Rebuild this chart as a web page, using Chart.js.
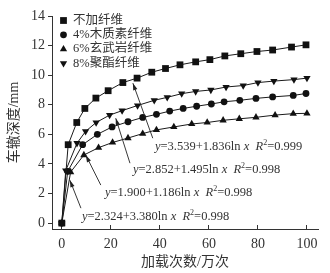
<!DOCTYPE html>
<html>
<head>
<meta charset="utf-8">
<script src="https://cdn.jsdelivr.net/npm/chart.js@4/dist/chart.umd.min.js"></script>
<style>
  body { margin: 0; background: #fff; }
  #wrap { width: 330px; height: 273px; }
</style>
</head>
<body>
<div id="wrap"><canvas id="rut" width="330" height="273"></canvas></div>
<script>
// series names (legend order)
var names = ["不加纤维", "4%木质素纤维", "6%玄武岩纤维", "8%聚酯纤维"];

// 不加纤维
var x0 = [0, 2.6, 6.1, 9.4, 13.9, 18.9, 24.9, 30.7, 36.7, 42.3, 48.2, 54.6, 60.4, 66.5, 73, 79.6, 86, 93.7, 99.6];
var y0 = [0, 5.3, 6.8, 7.75, 8.45, 8.95, 9.5, 9.8, 10.2, 10.45, 10.7, 10.9, 11.05, 11.3, 11.45, 11.6, 11.7, 11.9, 12.05];
// 4%木质素纤维
var x1 = [0, 2.4, 8.5, 14.5, 20.5, 27, 33, 38.6, 44, 49.5, 55, 61, 66.2, 72.6, 79.2, 86, 94.4, 99.6];
var y1 = [0, 3.5, 5.3, 6.0, 6.5, 6.85, 7.14, 7.35, 7.57, 7.75, 7.9, 8.05, 8.2, 8.3, 8.43, 8.53, 8.63, 8.76];
// 6%玄武岩纤维
var x2 = [0, 3.6, 9, 15, 20.7, 27, 33, 38.6, 45.7, 53, 59.3, 65.8, 72.4, 79.2, 87, 94.4, 100];
var y2 = [0, 3.45, 4.6, 5.1, 5.45, 5.75, 6.05, 6.3, 6.5, 6.7, 6.8, 6.95, 7.05, 7.15, 7.3, 7.4, 7.42];
// 8%聚酯纤维
var x3 = [0, 1.6, 6.2, 9.7, 14, 19.5, 24.6, 30.9, 37.7, 43, 48.9, 54.6, 60.8, 67, 74, 80, 86.5, 94.7, 100];
var y3 = [0, 3.55, 5.4, 6.2, 6.8, 7.3, 7.6, 7.95, 8.3, 8.5, 8.75, 8.9, 9.0, 9.2, 9.3, 9.5, 9.6, 9.7, 9.8];

var xTicks = [0, 20, 40, 60, 80, 100];
var yTicks = [0, 2, 4, 6, 8, 10, 12, 14];

// fit equations: [y0 + b ln x, R2]
var eqA = ["3.539", "2.852", "1.900", "2.324"];
var eqB = ["1.836", "1.495", "1.186", "3.380"];
var eqR = ["0.999", "0.998", "0.998", "0.998"];
// label anchor (data units) and arrow from/to
var eqPos = [[38.0, 5.14], [29.0, 3.58], [17.6, 2.03], [8.2, 0.41]];
var arrFrom = [[37.1, 5.74], [27.8, 4.05], [15.9, 2.57], [7.8, 1.01]];
var arrTo = [[29.0, 9.46], [22.0, 7.09], [9.8, 4.59], [3.3, 2.9]];

var serif = '"Liberation Serif", "Noto Sans CJK SC", serif';

function pairs(xs, ys) {
    var out = [];
    for (var i = 0; i < xs.length; i++) out.push({x: xs[i], y: ys[i]});
    return out;
}

var styles = [
    {pointStyle: "rect", radius: 4.8, rotation: 0},
    {pointStyle: "circle", radius: 3.4, rotation: 0},
    {pointStyle: "triangle", radius: 4.2, rotation: 0},
    {pointStyle: "triangle", radius: 4.2, rotation: 180}
];
var xsAll = [x0, x1, x2, x3];
var ysAll = [y0, y1, y2, y3];

var datasets = [];
for (var s = 0; s < names.length; s++) {
    datasets.push({
        label: names[s],
        data: pairs(xsAll[s], ysAll[s]),
        borderColor: "#1a1a1a",
        borderWidth: 1,
        backgroundColor: "#111",
        pointStyle: styles[s].pointStyle,
        pointRadius: styles[s].radius,
        pointRotation: styles[s].rotation,
        pointBackgroundColor: "#111",
        pointBorderColor: "#111",
        pointBorderWidth: 0,
        tension: 0
    });
}

function marker(ctx, style, x, y) {
    var r = style.radius;
    ctx.beginPath();
    if (style.pointStyle === "rect") {
        var h = r * Math.SQRT1_2;
        ctx.rect(x - h, y - h, 2 * h, 2 * h);
    } else if (style.pointStyle === "circle") {
        ctx.arc(x, y, r, 0, Math.PI * 2);
    } else {
        var sgn = style.rotation ? -1 : 1;
        var w = r * Math.cos(Math.PI / 6);
        ctx.moveTo(x, y - sgn * r);
        ctx.lineTo(x + w, y + sgn * r / 2);
        ctx.lineTo(x - w, y + sgn * r / 2);
        ctx.closePath();
    }
    ctx.fill();
}

var extras = {
    id: "extras",
    afterDraw: function(chart) {
        var ctx = chart.ctx;
        var xs = chart.scales.x, ys = chart.scales.y;
        ctx.save();
        // legend
        ctx.font = "12.5px " + serif;
        ctx.textBaseline = "middle";
        for (var i = 0; i < names.length; i++) {
            var ly = 20.5 + i * 14.3;
            ctx.fillStyle = "#111";
            marker(ctx, styles[i], 63.5, ly);
            ctx.fillStyle = "#333";
            ctx.fillText(names[i], 73, ly);
        }
        // arrows
        ctx.strokeStyle = "#222";
        ctx.lineWidth = 0.9;
        for (var k = 0; k < arrFrom.length; k++) {
            var fx = xs.getPixelForValue(arrFrom[k][0]), fy = ys.getPixelForValue(arrFrom[k][1]);
            var tx = xs.getPixelForValue(arrTo[k][0]), ty = ys.getPixelForValue(arrTo[k][1]);
            var ang = Math.atan2(ty - fy, tx - fx);
            ctx.beginPath();
            ctx.moveTo(fx, fy);
            ctx.lineTo(tx, ty);
            ctx.stroke();
            ctx.beginPath();
            ctx.moveTo(tx, ty);
            ctx.lineTo(tx - 7 * Math.cos(ang) + 2.2 * Math.sin(ang), ty - 7 * Math.sin(ang) - 2.2 * Math.cos(ang));
            ctx.lineTo(tx - 7 * Math.cos(ang) - 2.2 * Math.sin(ang), ty - 7 * Math.sin(ang) + 2.2 * Math.cos(ang));
            ctx.closePath();
            ctx.fillStyle = "#222";
            ctx.fill();
        }
        // equations
        ctx.fillStyle = "#333";
        for (var e = 0; e < eqA.length; e++) {
            var px = xs.getPixelForValue(eqPos[e][0]), py = ys.getPixelForValue(eqPos[e][1]);
            var parts = [
                ["y", "italic 12.5px "],
                ["=" + eqA[e] + "+" + eqB[e] + "ln ", "12.5px "],
                ["x", "italic 12.5px "],
                ["  ", "12.5px "],
                ["R", "italic 12.5px "],
                ["2", "8px ", -4],
                ["=" + eqR[e], "12.5px "]
            ];
            for (var p = 0; p < parts.length; p++) {
                ctx.font = parts[p][1] + serif;
                ctx.fillText(parts[p][0], px, py + (parts[p][2] || 0));
                px += ctx.measureText(parts[p][0]).width;
            }
        }
        ctx.restore();
    }
};

var ctx1 = document.getElementById("rut");
var chart1 = new Chart(ctx1, {
    type: "line",
    data: {datasets: datasets},
    options: {
        responsive: false,
        animation: false,
        events: [],
        layout: {padding: {top: 16, right: 12, left: 0, bottom: 0}},
        plugins: {legend: {display: false}, tooltip: {enabled: false}},
        scales: {
            x: {
                type: "linear",
                min: -4,
                max: 104.5,
                afterBuildTicks: function(axis) {
                    axis.ticks = xTicks.map(function(v) { return {value: v}; });
                },
                afterFit: function(axis) { axis.height = 44; },
                grid: {display: true, drawOnChartArea: false, drawTicks: true, tickLength: -4, color: "#333"},
                border: {display: true, color: "#333", width: 1},
                ticks: {color: "#333", font: {family: serif, size: 14}, padding: 11, maxRotation: 0},
                title: {display: true, text: "加载次数/万次", color: "#333", font: {family: serif, size: 14}, padding: {top: 2, bottom: 2}}
            },
            y: {
                min: -0.4,
                max: 14,
                afterBuildTicks: function(axis) {
                    axis.ticks = yTicks.map(function(v) { return {value: v}; });
                },
                afterFit: function(axis) { axis.width = 52; },
                grid: {display: true, drawOnChartArea: false, drawTicks: true, tickLength: 4, color: "#333"},
                border: {display: true, color: "#333", width: 1},
                ticks: {color: "#333", font: {family: serif, size: 14}, padding: 3},
                title: {display: true, text: "车辙深度/mm", color: "#333", font: {family: serif, size: 14}, padding: {top: 6, bottom: 6}}
            }
        }
    },
    plugins: [extras]
});
</script>
</body>
</html>
